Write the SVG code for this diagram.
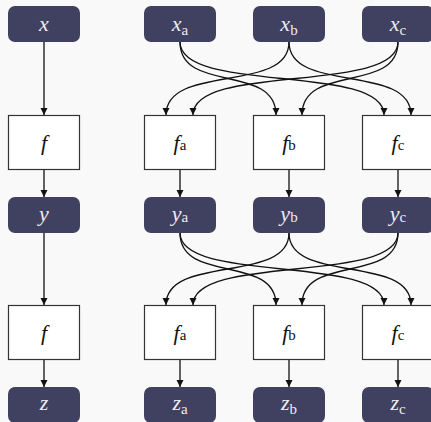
<svg xmlns="http://www.w3.org/2000/svg" width="431" height="422" viewBox="0 0 431 422">
<defs>
<marker id="ah" markerUnits="userSpaceOnUse" markerWidth="8" markerHeight="8" refX="7" refY="3.5" orient="auto">
<path d="M0,0 L7,3.5 L0,7 z" fill="#111"/>
</marker>
<style>
.dn{fill:#404060;}
.bx{fill:#ffffff;stroke:#333;stroke-width:1.2;}
.dt{fill:#ececf2;font-family:"Liberation Serif",serif;font-size:22px;font-style:italic;text-anchor:middle;}
.bt{fill:#111;font-family:"Liberation Serif",serif;font-size:22px;font-style:italic;text-anchor:middle;}
.sub{font-style:normal;font-size:15px;}
.e{fill:none;stroke:#111;stroke-width:1.3;marker-end:url(#ah);}
</style>
</defs>
<rect width="431" height="422" fill="#f9f9f9"/>
<g id="connectors">
<path class="e" d="M44,42 V115"/>
<path class="e" d="M44,170 V197"/>
<path class="e" d="M44,233 V305"/>
<path class="e" d="M44,360 V387"/>
<path class="e" d="M180,170 V197"/>
<path class="e" d="M289,170 V197"/>
<path class="e" d="M398,170 V197"/>
<path class="e" d="M180,360 V387"/>
<path class="e" d="M289,360 V387"/>
<path class="e" d="M398,360 V387"/>
<path class="e" d="M289,42 C289,94 166,63 166,115"/>
<path class="e" d="M398,42 C398,94 193,63 193,115"/>
<path class="e" d="M180,42 C180,94 276,63 276,115"/>
<path class="e" d="M398,42 C398,94 302,63 302,115"/>
<path class="e" d="M180,42 C180,94 384,63 384,115"/>
<path class="e" d="M289,42 C289,94 411,63 411,115"/>
<path class="e" d="M289,233 C289,284 166,254 166,305"/>
<path class="e" d="M398,233 C398,284 193,254 193,305"/>
<path class="e" d="M180,233 C180,284 276,254 276,305"/>
<path class="e" d="M398,233 C398,284 302,254 302,305"/>
<path class="e" d="M180,233 C180,284 384,254 384,305"/>
<path class="e" d="M289,233 C289,284 411,254 411,305"/>
</g>
<g id="x"><rect class="dn" x="8" y="6" width="72" height="36" rx="7"/><text class="dt" x="44" y="31">x</text></g>
<g id="xa"><rect class="dn" x="144" y="6" width="72" height="36" rx="7"/><text class="dt" x="180" y="31">x<tspan class="sub" dy="4">a</tspan></text></g>
<g id="xb"><rect class="dn" x="253" y="6" width="72" height="36" rx="7"/><text class="dt" x="289" y="31">x<tspan class="sub" dy="4">b</tspan></text></g>
<g id="xc"><rect class="dn" x="362" y="6" width="72" height="36" rx="7"/><text class="dt" x="398" y="31">x<tspan class="sub" dy="4">c</tspan></text></g>
<g id="f1"><rect class="bx" x="8.5" y="115.5" width="71" height="54"/><text class="bt" x="44" y="150">f</text></g>
<g id="fa1"><rect class="bx" x="144.5" y="115.5" width="71" height="54"/><text class="bt" x="180" y="150">f<tspan class="sub">a</tspan></text></g>
<g id="fb1"><rect class="bx" x="253.5" y="115.5" width="71" height="54"/><text class="bt" x="289" y="150">f<tspan class="sub">b</tspan></text></g>
<g id="fc1"><rect class="bx" x="362.5" y="115.5" width="71" height="54"/><text class="bt" x="398" y="150">f<tspan class="sub">c</tspan></text></g>
<g id="y"><rect class="dn" x="8" y="197" width="72" height="36" rx="7"/><text class="dt" x="44" y="221">y</text></g>
<g id="ya"><rect class="dn" x="144" y="197" width="72" height="36" rx="7"/><text class="dt" x="180" y="221">y<tspan class="sub" dy="1">a</tspan></text></g>
<g id="yb"><rect class="dn" x="253" y="197" width="72" height="36" rx="7"/><text class="dt" x="289" y="221">y<tspan class="sub" dy="1">b</tspan></text></g>
<g id="yc"><rect class="dn" x="362" y="197" width="72" height="36" rx="7"/><text class="dt" x="398" y="221">y<tspan class="sub" dy="1">c</tspan></text></g>
<g id="f2"><rect class="bx" x="8.5" y="305.5" width="71" height="54"/><text class="bt" x="44" y="340">f</text></g>
<g id="fa2"><rect class="bx" x="144.5" y="305.5" width="71" height="54"/><text class="bt" x="180" y="340">f<tspan class="sub">a</tspan></text></g>
<g id="fb2"><rect class="bx" x="253.5" y="305.5" width="71" height="54"/><text class="bt" x="289" y="340">f<tspan class="sub">b</tspan></text></g>
<g id="fc2"><rect class="bx" x="362.5" y="305.5" width="71" height="54"/><text class="bt" x="398" y="340">f<tspan class="sub">c</tspan></text></g>
<g id="z"><rect class="dn" x="8" y="387" width="72" height="36" rx="7"/><text class="dt" x="44" y="410">z</text></g>
<g id="za"><rect class="dn" x="144" y="387" width="72" height="36" rx="7"/><text class="dt" x="180" y="410">z<tspan class="sub" dy="4">a</tspan></text></g>
<g id="zb"><rect class="dn" x="253" y="387" width="72" height="36" rx="7"/><text class="dt" x="289" y="410">z<tspan class="sub" dy="4">b</tspan></text></g>
<g id="zc"><rect class="dn" x="362" y="387" width="72" height="36" rx="7"/><text class="dt" x="398" y="410">z<tspan class="sub" dy="4">c</tspan></text></g>
</svg>
